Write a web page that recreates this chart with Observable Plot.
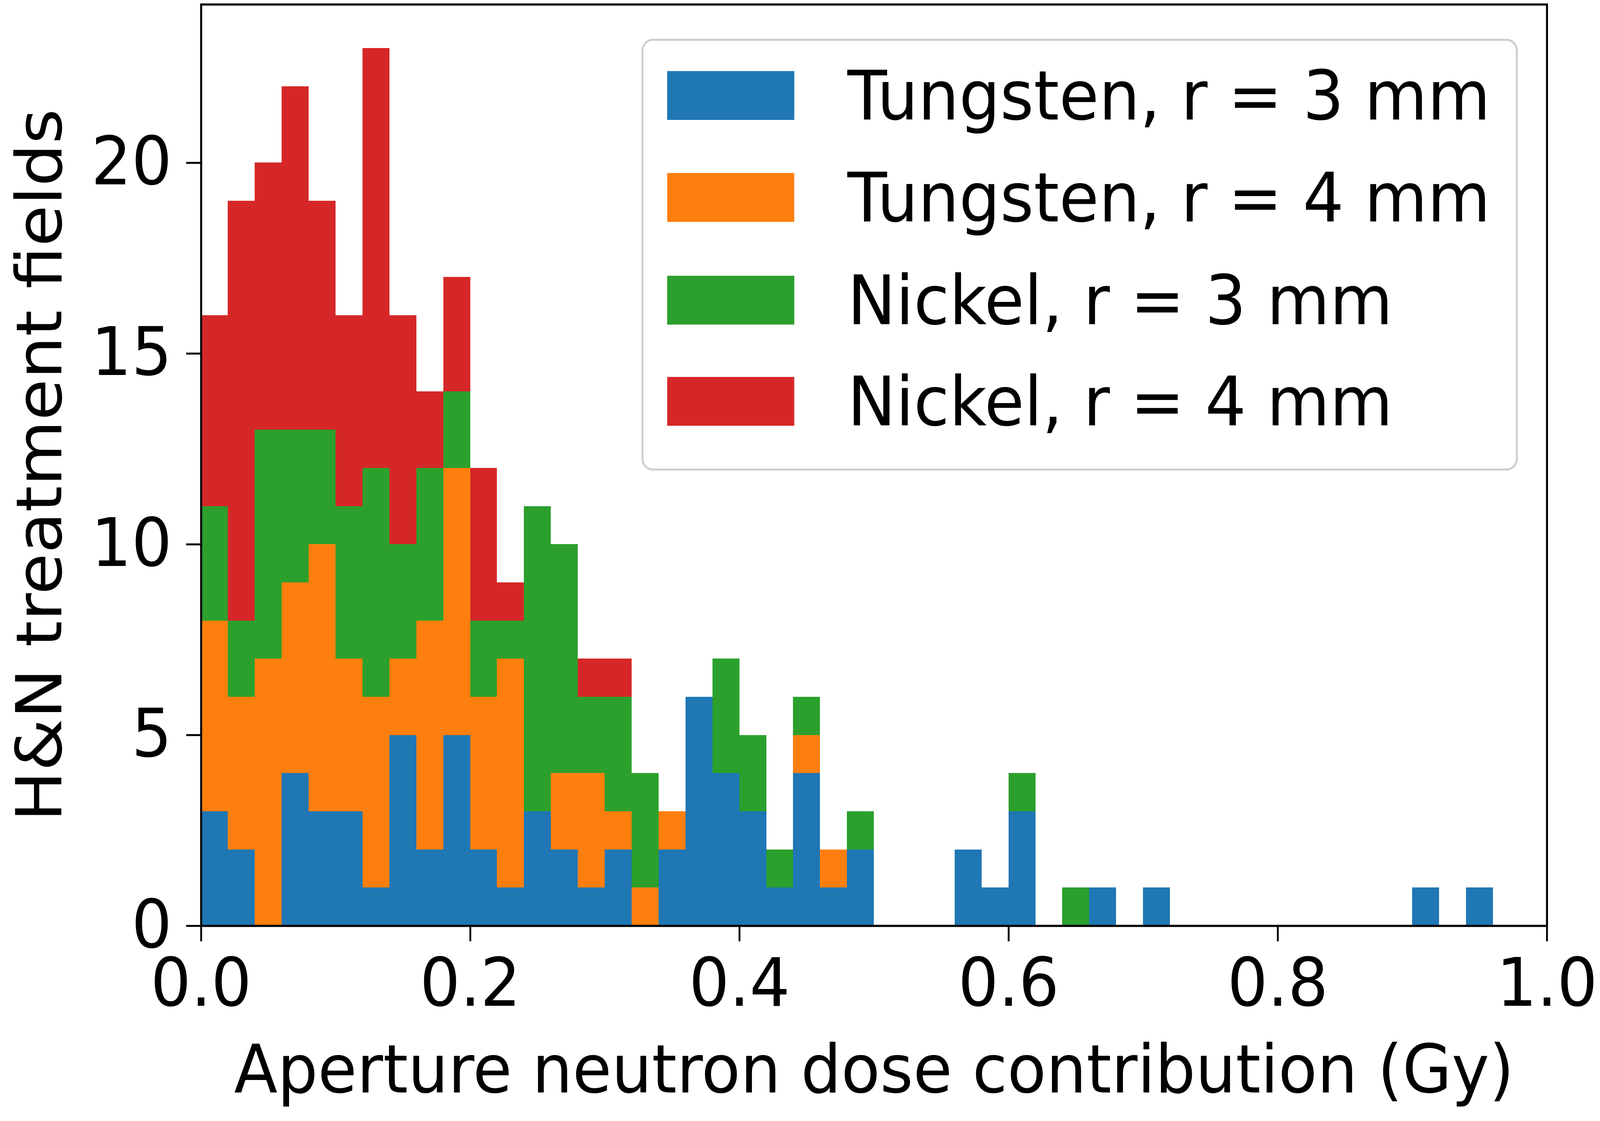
<!DOCTYPE html>
<html>
<head>
<meta charset="utf-8">
<script src="https://cdn.jsdelivr.net/npm/d3@7"></script>
<script src="https://cdn.jsdelivr.net/npm/@observablehq/plot@0.6"></script>
<style>
  html, body { margin: 0; padding: 0; background: white; overflow: hidden; }
  #outer { position: relative; overflow: hidden; width: 4331px; height: 2870px; background: white; }
  #wrap { position: absolute; left: 0; top: 0; width: 4331px; height: 2870px; transform-origin: 0 0; }
  #wrap > svg { display: block; }
  #legend { position: absolute; left: 0; top: 0; pointer-events: none; }
</style>
</head>
<body>
<div id="outer"><div id="wrap"></div></div>
<script>
// ---- data ----
const binWidth = 0.02;
const binStarts = [0.00,0.02,0.04,0.06,0.08,0.10,0.12,0.14,0.16,0.18,
                   0.20,0.22,0.24,0.26,0.28,0.30,0.32,0.34,0.36,0.38,
                   0.40,0.42,0.44,0.46,0.48,0.50,0.52,0.54,0.56,0.58,
                   0.60,0.62,0.64,0.66,0.68,0.70,0.72,0.74,0.76,0.78,
                   0.80,0.82,0.84,0.86,0.88,0.90,0.92,0.94,0.96,0.98];
const seriesNames = ["Tungsten, r = 3 mm", "Tungsten, r = 4 mm", "Nickel, r = 3 mm", "Nickel, r = 4 mm"];
const seriesColors = ["#1f77b4", "#ff7f0e", "#2ca02c", "#d62728"];
const tungsten3 = [3,2,0,4,3,3,1,5,2,5, 2,1,3,2,1,2,0,2,6,4, 3,1,4,1,2,0,0,0,2,1, 3,0,0,1,0,1,0,0,0,0, 0,0,0,0,0,1,0,1,0,0];
const tungsten4 = [5,4,7,5,7,4,5,2,6,7, 4,6,0,2,3,1,1,1,0,0, 0,0,1,1,0,0,0,0,0,0, 0,0,0,0,0,0,0,0,0,0, 0,0,0,0,0,0,0,0,0,0];
const nickel3   = [3,2,6,4,3,4,6,3,4,2, 2,1,8,6,2,3,3,0,0,3, 2,1,1,0,1,0,0,0,0,0, 1,0,1,0,0,0,0,0,0,0, 0,0,0,0,0,0,0,0,0,0];
const nickel4   = [5,11,7,9,6,5,11,6,2,3, 4,1,0,0,1,1,0,0,0,0, 0,0,0,0,0,0,0,0,0,0, 0,0,0,0,0,0,0,0,0,0, 0,0,0,0,0,0,0,0,0,0];
const xTicks = [0.0, 0.2, 0.4, 0.6, 0.8, 1.0];
const yTicks = [0, 5, 10, 15, 20];
const xLabel = "Aperture neutron dose contribution (Gy)";
const yLabel = "H&N treatment fields";

// ---- table ----
const seriesValues = [tungsten3, tungsten4, nickel3, nickel4];
const rows = [];
seriesValues.forEach((vals, s) => {
  vals.forEach((c, i) => {
    if (c > 0) rows.push({x1: binStarts[i], x2: binStarts[i] + binWidth, count: c, series: seriesNames[s]});
  });
});

const W = 4331, H = 2870;
const FS = 172;
const chart = Plot.plot({
  width: W, height: H,
  marginLeft: 544, marginRight: 144, marginTop: 11, marginBottom: 500,
  style: {fontFamily: "'DejaVu Sans', sans-serif", fontSize: FS + "px", background: "white", color: "black", maxWidth: "none"},
  x: {domain: [0, 1]},
  y: {domain: [0, 24.15]},
  color: {domain: seriesNames, range: seriesColors},
  marks: [
    Plot.rectY(rows, {x1: "x1", x2: "x2", y: "count", fill: "series", shapeRendering: "crispEdges"}),
    Plot.frame({stroke: "black", strokeWidth: 5.5}),
    Plot.axisX({ticks: xTicks, tickFormat: d3.format(".1f"), tickSize: 40, tickPadding: 42, strokeWidth: 5, label: null, fontSize: FS}),
    Plot.axisY({ticks: yTicks, tickFormat: d3.format("d"), tickSize: 40, tickPadding: 39, strokeWidth: 5, label: null, fontSize: FS}),
    Plot.text([xLabel], {frameAnchor: "bottom", dy: 304, textAnchor: "middle", lineAnchor: "top", fontSize: FS}),
    Plot.text([yLabel], {frameAnchor: "left", rotate: -90, dx: -434, textAnchor: "middle", lineAnchor: "middle", fontSize: FS})
  ]
});
const outer = document.getElementById("outer");
const wrap = document.getElementById("wrap");
wrap.appendChild(chart);

// ---- legend overlay ----
const lg = d3.select(wrap).append("svg")
  .attr("id", "legend")
  .attr("width", W).attr("height", H)
  .style("font-family", "'DejaVu Sans', sans-serif");
const box = {x: 1739, y: 102, w: 2367, h: 1100};
lg.append("rect")
  .attr("x", box.x).attr("y", box.y).attr("width", box.w).attr("height", box.h)
  .attr("rx", 28).attr("ry", 28)
  .attr("fill", "white").attr("fill-opacity", 0.8)
  .attr("stroke", "#cccccc").attr("stroke-width", 5);
const rowY = [244, 505, 768, 1027];
seriesNames.forEach((name, i) => {
  lg.append("rect")
    .attr("x", 1806).attr("y", rowY[i] - 62).attr("width", 344).attr("height", 125)
    .attr("fill", seriesColors[i]);
  lg.append("text")
    .attr("x", 2294).attr("y", rowY[i] + 62)
    .attr("font-size", 175)
    .attr("fill", "black")
    .text(name);
});

// the viewport may be narrower than the 4331x2870 design; stretch the
// design to fill it so the picture keeps the reference's proportions
function fit() {
  const vw = window.innerWidth, vh = window.innerHeight;
  const sx = vw / W, sy = vh / H;
  outer.style.width = vw + "px";
  outer.style.height = vh + "px";
  wrap.style.transform = `scale(${sx}, ${sy})`;
}
fit();
window.addEventListener("resize", fit);
</script>
</body>
</html>
